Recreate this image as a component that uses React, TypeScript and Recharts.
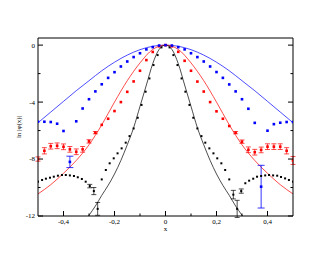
import React from 'react';
import { ComposedChart, XAxis, YAxis, Scatter, Line, ErrorBar } from 'recharts';

// x grid of blue and red measured points
const pointX = [-0.5, -0.475, -0.45, -0.425, -0.4, -0.375, -0.35, -0.325, -0.3, -0.275, -0.25, -0.225, -0.2, -0.175, -0.15, -0.125, -0.1, -0.075, -0.05, -0.025, 0, 0.025, 0.05, 0.075, 0.1, 0.125, 0.15, 0.175, 0.2, 0.225, 0.25, 0.275, 0.3, 0.325, 0.35, 0.375, 0.4, 0.425, 0.45, 0.475, 0.5];

const blueY = [-5.38, -5.38, -5.4, -5.52, -6.03, -8.2, -5.35, -4.45, -3.8, -3.25, -2.75, -2.3, -1.9, -1.5, -1.15, -0.84, -0.57, -0.3, -0.14, -0.03, 0, -0.03, -0.14, -0.3, -0.57, -0.84, -1.15, -1.5, -1.89, -2.3, -2.76, -3.25, -3.8, -4.47, -5.46, -9.94, -6.01, -5.55, -5.45, -5.4, -5.4];
const blueErr = [0, 0, 0, 0, 0, 0.4, 0, 0, 0, 0, 0, 0, 0, 0, 0, 0, 0, 0, 0, 0, 0, 0, 0, 0, 0, 0, 0, 0, 0, 0, 0, 0, 0, 0, 0, 1.5, 0, 0, 0, 0, 0];

const redY = [-8.0, -7.42, -7.1, -7.07, -7.14, -7.32, -7.49, -7.32, -6.76, -6.15, -5.6, -5.17, -4.63, -4.0, -3.28, -2.55, -1.8, -1.05, -0.48, -0.08, 0, -0.08, -0.47, -1.1, -1.8, -2.56, -3.26, -4.0, -4.65, -5.17, -5.68, -6.15, -6.78, -7.35, -7.52, -7.36, -7.13, -7.13, -7.13, -7.42, -8.1];
const redErr = [0.15, 0.22, 0.2, 0.2, 0.2, 0.2, 0.2, 0.2, 0.12, 0.08, 0, 0, 0, 0, 0, 0, 0, 0, 0, 0, 0, 0, 0, 0, 0, 0, 0, 0, 0, 0, 0, 0.08, 0.12, 0.2, 0.2, 0.2, 0.2, 0.2, 0.2, 0.22, 0.28];

// x grid of black measured points
const blackX = [-0.5, -0.484, -0.469, -0.453, -0.438, -0.422, -0.406, -0.391, -0.375, -0.359, -0.344, -0.328, -0.313, -0.297, -0.281, -0.266, -0.25, -0.234, -0.219, -0.203, -0.188, -0.172, -0.156, -0.141, -0.125, -0.109, -0.094, -0.078, -0.063, -0.047, -0.031, -0.016, 0, 0.016, 0.031, 0.047, 0.063, 0.078, 0.094, 0.109, 0.125, 0.141, 0.156, 0.172, 0.188, 0.203, 0.219, 0.234, 0.25, 0.266, 0.281, 0.297, 0.313, 0.328, 0.344, 0.359, 0.375, 0.391, 0.406, 0.422, 0.438, 0.453, 0.469, 0.484, 0.5];
const blackY = [-9.59, -9.47, -9.38, -9.31, -9.24, -9.17, -9.12, -9.12, -9.15, -9.19, -9.28, -9.4, -9.59, -9.9, -10.25, -11.5, -9.43, -8.77, -8.3, -7.95, -7.6, -7.25, -6.85, -6.39, -5.85, -5.1, -4.2, -3.27, -2.34, -1.4, -0.7, -0.16, 0, -0.16, -0.7, -1.4, -2.34, -3.27, -4.2, -5.1, -5.85, -6.39, -6.85, -7.25, -7.6, -7.95, -8.3, -8.77, -9.43, -10.5, -11.5, -10.25, -9.7, -9.52, -9.38, -9.24, -9.19, -9.15, -9.12, -9.15, -9.17, -9.26, -9.36, -9.47, -9.59];
const blackErr = [0, 0, 0, 0, 0, 0, 0, 0, 0, 0, 0, 0, 0, 0.12, 0.25, 0.45, 0, 0, 0, 0, 0, 0, 0, 0, 0, 0, 0, 0, 0, 0, 0, 0, 0, 0, 0, 0, 0, 0, 0, 0, 0, 0, 0, 0, 0, 0, 0, 0, 0, 0.3, 0.6, 0.15, 0, 0, 0, 0, 0, 0, 0, 0, 0, 0, 0, 0, 0];

// fitted curves
const lineX = [-0.5, -0.45, -0.4, -0.35, -0.3, -0.25, -0.2, -0.15, -0.1, -0.05, 0, 0.05, 0.1, 0.15, 0.2, 0.25, 0.3, 0.35, 0.4, 0.45, 0.5];
const blueLine = [-5.45, -4.7, -3.95, -3.2, -2.5, -1.8, -1.2, -0.7, -0.32, -0.08, 0, -0.08, -0.32, -0.7, -1.2, -1.8, -2.5, -3.2, -3.95, -4.7, -5.45];
const redLine = [-10.45, -9.8, -9.0, -8.1, -7.0, -5.6, -4.0, -2.5, -1.25, -0.3, 0, -0.3, -1.25, -2.5, -4.0, -5.6, -7.0, -8.1, -9.0, -9.8, -10.45];
const blackLineX = [-0.325, -0.3, -0.275, -0.25, -0.225, -0.2, -0.175, -0.15, -0.125, -0.1, -0.075, -0.05, -0.025, 0, 0.025, 0.05, 0.075, 0.1, 0.125, 0.15, 0.175, 0.2, 0.225, 0.25, 0.275, 0.3, 0.325];
const blackLine = [-12.6, -11.95, -11.3, -10.55, -9.85, -9.05, -8.1, -7.0, -5.8, -4.3, -2.8, -1.3, -0.3, 0, -0.3, -1.3, -2.8, -4.3, -5.8, -7.0, -8.1, -9.05, -9.85, -10.55, -11.3, -11.95, -12.6];

const xTicks = [-0.4, -0.3, -0.2, -0.1, 0, 0.1, 0.2, 0.3, 0.4];
const yTicks = [-12, -10, -8, -6, -4, -2, 0];
const xTitle = 'x';
const yTitle = 'ln |φ(x)|';

const FONT = '"Liberation Serif", "Times New Roman", serif';
const FS = 7;

const blueData = pointX.map((x, i) => ({ x, y: blueY[i], e: blueErr[i] }));
const redData = pointX.map((x, i) => ({ x, y: redY[i], e: redErr[i] }));
const blackData = blackX.map((x, i) => ({ x, y: blackY[i], e: blackErr[i] }));
const blueLineData = lineX.map((x, i) => ({ x, y: blueLine[i] }));
const redLineData = lineX.map((x, i) => ({ x, y: redLine[i] }));
const blackLineData = blackLineX.map((x, i) => ({ x, y: blackLine[i] }));

const fmtX = (v: number) => (Math.abs(v) < 1e-9 ? '0' : v.toFixed(1).replace('.', ','));

const AxisTick = (props: any) => {
  const { x, y, payload, side } = props;
  const v = payload.value;
  const vertical = side === 'left' || side === 'right';
  const major = vertical ? Math.round(v) % 4 === 0 : Math.round(v * 10) % 2 === 0;
  const len = major ? 5 : 2.5;
  const st = { stroke: '#000', strokeWidth: 1 };
  if (side === 'left') {
    return (
      <g>
        <line x1={x} y1={y} x2={x + len} y2={y} {...st} />
        {major && (
          <text x={x - 3} y={y} dy="0.35em" textAnchor="end" fontSize={FS} fontFamily={FONT} fill="#000">{String(v)}</text>
        )}
      </g>
    );
  }
  if (side === 'right') {
    return <line x1={x} y1={y} x2={x - len} y2={y} {...st} />;
  }
  if (side === 'top') {
    return <line x1={x} y1={y} x2={x} y2={y + len} {...st} />;
  }
  return (
    <g>
      <line x1={x} y1={y} x2={x} y2={y - len} {...st} />
      {major && (
        <text x={x} y={y + 3} dy="0.71em" textAnchor="middle" fontSize={FS} fontFamily={FONT} fill="#000">{fmtX(v)}</text>
      )}
    </g>
  );
};

const square = (size: number, color: string) => (p: any) => (
  <rect x={p.cx - size / 2} y={p.cy - size / 2} width={size} height={size} fill={color} />
);

export default function App() {
  return (
    <div style={{ position: 'absolute', left: 0, top: 0, background: '#fff' }}>
      <ComposedChart width={330} height={255} margin={{ top: 0, right: 0, bottom: 0, left: 0 }}>
        <XAxis
          xAxisId="b"
          dataKey="x"
          type="number"
          domain={[-0.5, 0.5]}
          allowDataOverflow
          ticks={xTicks}
          interval={0}
          height={39}
          tickSize={0}
          tickMargin={0}
          tickLine={false}
          axisLine={{ stroke: '#000' }}
          tick={(p: any) => <AxisTick {...p} side="bottom" />}
          label={{ value: xTitle, position: 'insideBottom', offset: 24, fontSize: FS, fontFamily: FONT, fill: '#000' }}
        />
        <XAxis
          xAxisId="t"
          orientation="top"
          type="number"
          domain={[-0.5, 0.5]}
          allowDataOverflow
          ticks={xTicks}
          interval={0}
          height={38}
          tickSize={0}
          tickMargin={0}
          tickLine={false}
          axisLine={{ stroke: '#000' }}
          tick={(p: any) => <AxisTick {...p} side="top" />}
        />
        <YAxis
          yAxisId="l"
          dataKey="y"
          type="number"
          domain={[-12, 0.5]}
          allowDataOverflow
          ticks={yTicks}
          interval={0}
          width={38}
          tickSize={0}
          tickMargin={0}
          tickLine={false}
          axisLine={{ stroke: '#000' }}
          tick={(p: any) => <AxisTick {...p} side="left" />}
          label={{ value: yTitle, angle: -90, position: 'center', fontSize: FS, fontFamily: FONT, fill: '#000' }}
        />
        <YAxis
          yAxisId="r"
          orientation="right"
          type="number"
          domain={[-12, 0.5]}
          allowDataOverflow
          ticks={yTicks}
          interval={0}
          width={37}
          tickSize={0}
          tickMargin={0}
          tickLine={false}
          axisLine={{ stroke: '#000' }}
          tick={(p: any) => <AxisTick {...p} side="right" />}
        />
        <Line xAxisId="b" yAxisId="l" data={blueLineData} dataKey="y" type="monotone" stroke="#0000ff" strokeWidth={0.7} dot={false} isAnimationActive={false} />
        <Line xAxisId="b" yAxisId="l" data={redLineData} dataKey="y" type="monotone" stroke="#ff0000" strokeWidth={0.7} dot={false} isAnimationActive={false} />
        <Line xAxisId="b" yAxisId="l" data={blackLineData} dataKey="y" type="monotone" stroke="#000000" strokeWidth={0.7} dot={false} isAnimationActive={false} />
        <Scatter xAxisId="b" yAxisId="l" data={blackData} dataKey="y" shape={square(2, '#000')} isAnimationActive={false}>
          <ErrorBar dataKey="e" direction="y" width={2.5} stroke="#000" strokeWidth={0.7} />
        </Scatter>
        <Scatter xAxisId="b" yAxisId="l" data={redData} dataKey="y" shape={square(2.6, '#ff0000')} isAnimationActive={false}>
          <ErrorBar dataKey="e" direction="y" width={2.5} stroke="#ff0000" strokeWidth={0.7} />
        </Scatter>
        <Scatter xAxisId="b" yAxisId="l" data={blueData} dataKey="y" shape={square(2.6, '#0000ff')} isAnimationActive={false}>
          <ErrorBar dataKey="e" direction="y" width={3.5} stroke="#0000ff" strokeWidth={0.8} />
        </Scatter>
      </ComposedChart>
    </div>
  );
}
